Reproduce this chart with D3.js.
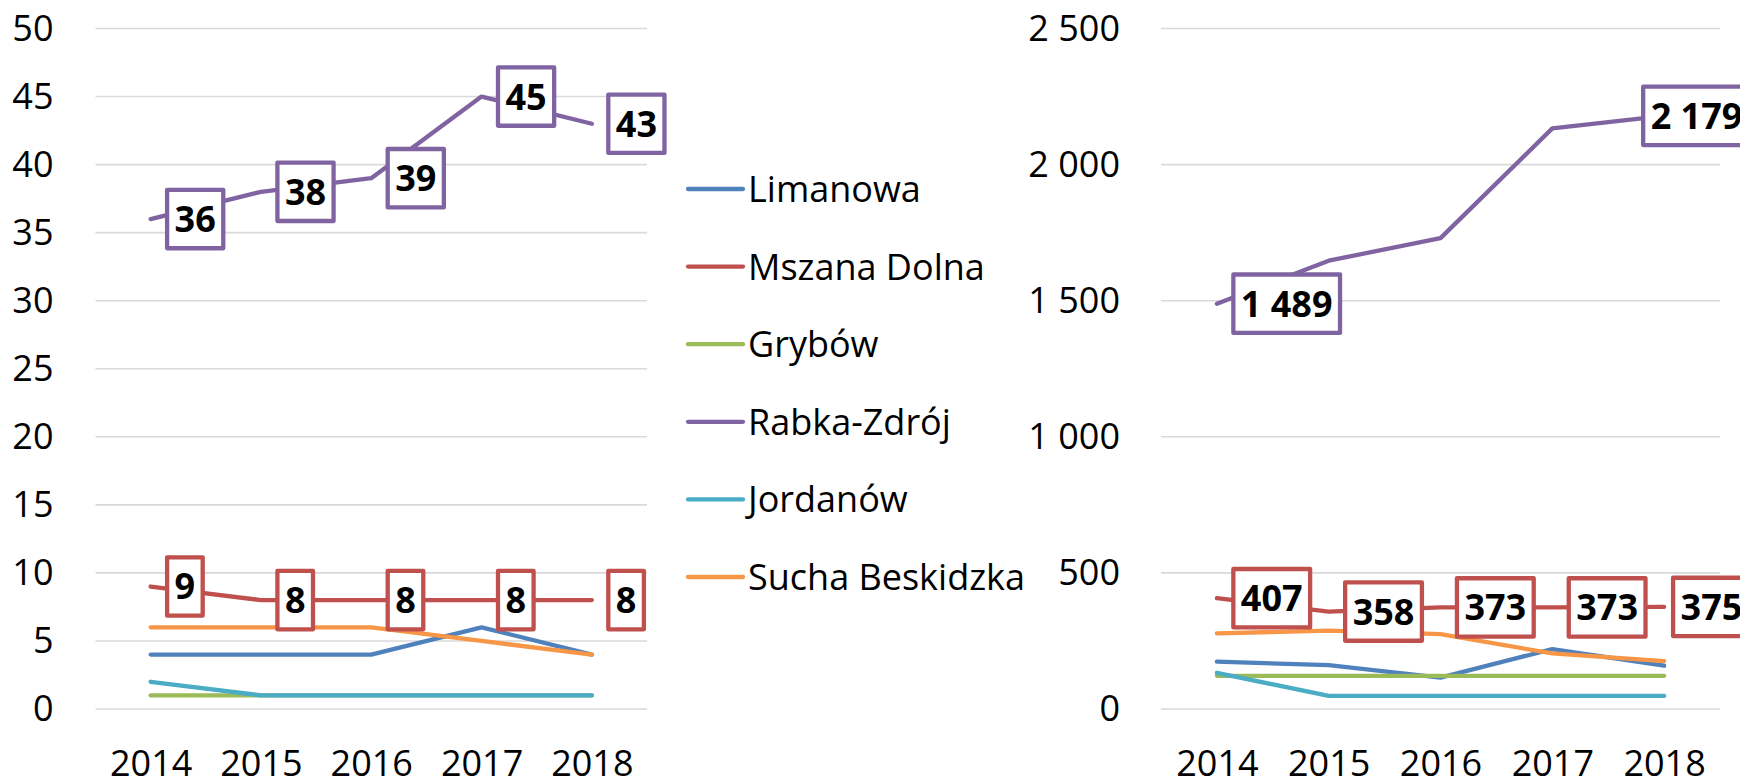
<!DOCTYPE html>
<html>
<head>
<meta charset="utf-8">
<script src="https://cdn.jsdelivr.net/npm/d3@7"></script>
<style>
  body { margin: 0; background: #fff; }
  svg { display: block; font-family: "Open Sans", Lato, sans-serif; }
</style>
</head>
<body>
<div id="chart"></div>
<script>
'use strict';

// Categories
var years = ["2014", "2015", "2016", "2017", "2018"]
var names = ["Limanowa", "Mszana Dolna", "Grybów", "Rabka-Zdrój", "Jordanów", "Sucha Beskidzka"]

// Left chart values
var leftLimanowa = [4, 4, 4, 6, 4]
var leftMszana = [9, 8, 8, 8, 8]
var leftGrybow = [1, 1, 1, 1, 1]
var leftRabka = [36, 38, 39, 45, 43]
var leftJordanow = [2, 1, 1, 1, 1]
var leftSucha = [6, 6, 6, 5, 4]
var leftTicks = [0, 5, 10, 15, 20, 25, 30, 35, 40, 45, 50]

// Right chart values
var rightLimanowa = [174, 161, 115, 220, 159]
var rightMszana = [407, 358, 373, 373, 375]
var rightGrybow = [122, 122, 122, 122, 122]
var rightRabka = [1489, 1647, 1730, 2133, 2179]
var rightJordanow = [133, 48, 48, 48, 48]
var rightSucha = [278, 288, 275, 204, 176]
var rightTicks = [0, 500, 1000, 1500, 2000, 2500]

// Which points carry a data label
var leftLabels = {"Mszana Dolna": [0, 1, 2, 3, 4], "Rabka-Zdrój": [0, 1, 2, 3, 4]}
var rightLabels = {"Mszana Dolna": [0, 1, 2, 3, 4], "Rabka-Zdrój": [0, 4]}

var colorize = function(name){
  if (name == "Limanowa") return "#4F81BD"
  if (name == "Mszana Dolna") return "#C0504D"
  if (name == "Grybów") return "#9BBB59"
  if (name == "Rabka-Zdrój") return "#8064A2"
  if (name == "Jordanów") return "#4BACC6"
  if (name == "Sucha Beskidzka") return "#F79646"
  return "#ff699b" // Error
}

var pl = d3.formatLocale({decimal: ",", thousands: "\u00a0", grouping: [3], currency: ["", ""]})
var fmt = pl.format(",d")

var width = 1740, height = 780
var fontSize = 36
var lineWidth = 4.3
var boxLimit = 1752

var svg = d3.select("#chart").append("svg")
  .attr("width", width)
  .attr("height", height)

function drawChart(opts) {
  var x = d3.scalePoint()
    .domain(years)
    .range([opts.left, opts.right])
    .padding(0.5)

  var y = d3.scaleLinear()
    .domain([0, opts.max])
    .range([709, 28.5])

  var g = svg.append("g")

  // gridlines
  g.selectAll(".grid")
    .data(opts.ticks)
    .enter().append("line")
      .attr("class", "grid")
      .attr("x1", opts.left)
      .attr("x2", opts.right)
      .attr("y1", function(d) { return y(d) })
      .attr("y2", function(d) { return y(d) })
      .style("stroke", "#D9D9D9")
      .style("stroke-width", 1.6)

  var yAxis = g.append("g")
    .attr("transform", "translate(" + opts.left + ",0)")
    .call(d3.axisLeft(y).tickValues(opts.ticks).tickSize(0).tickPadding(opts.left - opts.labelRight).tickFormat(fmt))
  yAxis.select(".domain").remove()
  yAxis.selectAll("text")
    .style("font-size", fontSize + "px")
    .style("font-family", "'Open Sans', sans-serif")
    .style("fill", "#000")

  var xAxis = g.append("g")
    .attr("transform", "translate(0,709)")
    .call(d3.axisBottom(x).tickSize(0).tickPadding(41))
  xAxis.select(".domain").remove()
  xAxis.selectAll("text")
    .style("font-size", fontSize + "px")
    .style("font-family", "'Open Sans', sans-serif")
    .style("fill", "#000")

  var line = d3.line()
    .x(function(d) { return x(d.year) })
    .y(function(d) { return y(d.value) })

  var curves = names.map(function(name, i){
    return {
      name: name,
      values: years.map(function(yr, j){ return {year: yr, value: opts.series[i][j]} })
    }
  })

  g.selectAll(".curve")
    .data(curves)
    .enter().append("path")
      .attr("class", "curve")
      .attr("d", function(d) { return line(d.values) })
      .style("stroke", function(d) { return colorize(d.name) })
      .style("stroke-width", lineWidth)
      .style("stroke-linecap", "round")
      .style("stroke-linejoin", "round")
      .style("fill", "none")

  // data labels
  curves.forEach(function(c){
    var idx = opts.labels[c.name]
    if (!idx) return
    idx.forEach(function(j){
      var d = c.values[j]
      var px = x(d.year), py = y(d.value)
      var lab = g.append("g")
      var rect = lab.append("rect")
      var txt = lab.append("text")
        .attr("text-anchor", "middle")
        .attr("dy", "0.36em")
        .style("font-size", fontSize + "px")
        .style("font-weight", "bold")
        .style("fill", "#000")
        .text(fmt(d.value))
      var tw = txt.node().getComputedTextLength()
      var bw = tw + 15, bh = 58.4
      var outerLeft = Math.min(px + 14.3, boxLimit - bw - lineWidth)
      var bx = outerLeft + lineWidth / 2
      rect
        .attr("x", bx)
        .attr("y", py - bh / 2)
        .attr("width", bw)
        .attr("height", bh)
        .style("fill", "#fff")
        .style("stroke", colorize(c.name))
        .style("stroke-width", lineWidth)
        .style("stroke-linejoin", "round")
      txt
        .attr("x", bx + bw / 2)
        .attr("y", py)
    })
  })
}

drawChart({
  left: 95.5, right: 647, labelRight: 53.5, max: 50, ticks: leftTicks,
  series: [leftLimanowa, leftMszana, leftGrybow, leftRabka, leftJordanow, leftSucha],
  labels: leftLabels
})

drawChart({
  left: 1161, right: 1720, labelRight: 1120, max: 2500, ticks: rightTicks,
  series: [rightLimanowa, rightMszana, rightGrybow, rightRabka, rightJordanow, rightSucha],
  labels: rightLabels
})

// Legend
var legend = svg.append("g")
  .attr("transform", "translate(688,189)")

var item = legend.selectAll(".item")
  .data(names)
  .enter().append("g")
    .attr("class", "item")
    .attr("transform", function(d, i) { return "translate(0," + (i * 77.6) + ")" })

item.append("line")
  .attr("x1", 0)
  .attr("x2", 55)
  .style("stroke", function(d) { return colorize(d) })
  .style("stroke-width", lineWidth)
  .style("stroke-linecap", "round")

item.append("text")
  .attr("x", 60)
  .attr("dy", "0.36em")
  .style("font-size", fontSize + "px")
  .style("fill", "#000")
  .text(function(d) { return d })
</script>
</body>
</html>
